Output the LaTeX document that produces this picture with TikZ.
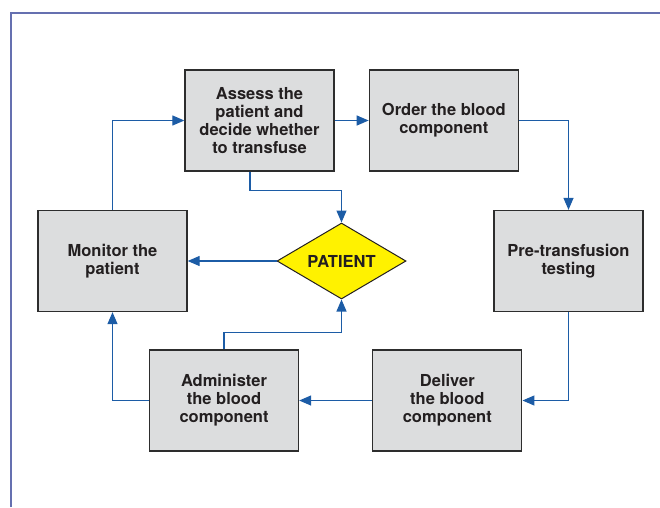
\documentclass[tikz,border=0pt]{standalone}
\usepackage{fontspec}
\setsansfont{TeX Gyre Heros}
\usetikzlibrary{arrows.meta, positioning, shapes.geometric}

\definecolor{framecol}{RGB}{101,112,176}
\definecolor{flowcol}{RGB}{28,92,166}
\definecolor{boxfill}{RGB}{220,221,222}
\definecolor{boxline}{RGB}{45,45,45}
\definecolor{textcol}{RGB}{35,31,32}
\definecolor{patientfill}{RGB}{255,242,0}

\begin{document}
\begin{tikzpicture}[
    x=1pt, y=1pt,
    font=\sffamily\bfseries\fontsize{16.5}{18}\selectfont,
    block/.style={rectangle, draw=boxline, line width=1.3pt, fill=boxfill, text=textcol,
                  minimum width=149pt, minimum height=101pt, align=center, inner sep=2pt},
    decision/.style={diamond, draw=textcol, line width=1pt, fill=patientfill, text=textcol,
                     minimum width=129pt, minimum height=76pt, aspect=1.7, inner sep=0pt},
    flow/.style={draw=flowcol, line width=1.2pt, -{Triangle[length=12pt, width=10pt]}}
]
\useasboundingbox (0,0) rectangle (660,-507);
% Frame
\draw[framecol, line width=2.5pt] (11,-507) -- (11,-13) -- (660,-13);

% Nodes
\node [block] (assess) at (259.5,-120.5) {Assess the\\patient and\\decide whether\\to transfuse};
\node [block, right=34pt of assess] (order) {Order the blood\\component};
\node [decision] (patient) at (341.5,-261) {PATIENT};
\node [block] (monitor) at (112.5,-261) {Monitor the\\patient};
\node [block] (pretest) at (568.5,-261) {Pre-transfusion\\testing};
\node [block] (administer) at (224,-400.5) {Administer\\the blood\\component};
\node [block, right=73pt of administer] (deliver) {Deliver\\the blood\\component};

% Arrows
\draw[flow] (monitor.north) |- (assess.west);
\draw[flow] (assess) -- (order);
\draw[flow] (order.east) -| (pretest.north);
\draw[flow] (pretest.south) |- (deliver.east);
\draw[flow] (deliver) -- (administer);
\draw[flow] (administer.west) -| (monitor.south);
\draw[flow] (patient) -- (monitor);
\draw[flow] ([xshift=-9.5pt]assess.south) -- ++(0,-19) -| (patient.north);
\draw[flow] (administer.north) -- ++(0,17) -| (patient.south);
\end{tikzpicture}
\end{document}
